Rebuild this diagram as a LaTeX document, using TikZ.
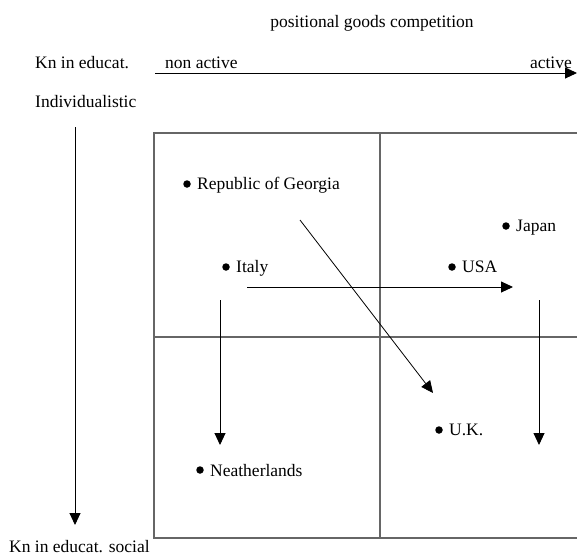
\documentclass[tikz,border=0pt]{standalone}
\usepackage{fontspec}
\setmainfont{Liberation Serif}
\usetikzlibrary{arrows.meta}
\begin{document}
\begin{tikzpicture}[x=1pt,y=-1pt,
  lbl/.style={anchor=base west,inner sep=0pt,font=\fontsize{17.5}{20}\selectfont},
  lblr/.style={anchor=base east,inner sep=0pt,font=\fontsize{17.5}{20}\selectfont},
  lblc/.style={anchor=base,inner sep=0pt,font=\fontsize{17.5}{20}\selectfont},
  dot/.style={circle,fill=black,inner sep=0pt,minimum size=7.5pt},
  arr/.style={line width=0.9pt,-{Triangle[length=12pt,width=11pt]}},
  grid/.style={line width=1.2pt,draw=black!60}]
\useasboundingbox (0,0) rectangle (577,557);
% texts
\node[lblc] (title) at (372,27) {positional goods competition};
\node[lbl] (kn) at (35,68) {Kn in educat.};
\node[lbl] (nonactive) at (165,68) {non active};
\node[lblr] (active) at (572,68) {active};
\node[lbl] (indiv) at (35,107) {Individualistic};
\node[lbl] (social) at (9,552) {Kn in educat. social};
% axes
\coordinate (hs) at (155,73);
\coordinate (he) at (577,73);
\draw[arr] (hs) -- (he);
\coordinate (vs) at (75,127);
\coordinate (ve) at (75,525);
\draw[arr] (vs) -- (ve);
% grid
\coordinate (tl) at (154,133);
\coordinate (tr) at (577,133);
\coordinate (bl) at (154,538);
\coordinate (br) at (577,538);
\coordinate (mt) at (380,133);
\coordinate (mb) at (380,538);
\coordinate (ml) at (154,337);
\coordinate (mr) at (577,337);
\draw[grid] (tr) -- (tl) -- (bl) -- (br);
\draw[grid] (mt) -- (mb);
\draw[grid] (ml) -- (mr);
% countries
\node[dot] (georgiadot) at (187,184) {};
\node[lbl] (georgia) at (197,189) {Republic of Georgia};
\node[dot] (italydot) at (226,267) {};
\node[lbl] (italy) at (236,272) {Italy};
\node[dot] (japandot) at (506,226) {};
\node[lbl] (japan) at (516,231) {Japan};
\node[dot] (usadot) at (452,267) {};
\node[lbl] (usa) at (462,272) {USA};
\node[dot] (ukdot) at (439,430) {};
\node[lbl] (uk) at (449,435) {U.K.};
\node[dot] (nethdot) at (200,470) {};
\node[lbl] (neth) at (210,476) {Neatherlands};
% movement arrows
\coordinate (d1s) at (300,220);
\coordinate (d1e) at (433,393);
\draw[arr,line width=0.8pt] (d1s) -- (d1e);
\coordinate (h1s) at (247,287);
\coordinate (h1e) at (513,287);
\draw[arr] (h1s) -- (h1e);
\coordinate (v1s) at (220,300);
\coordinate (v1e) at (220,445);
\draw[arr] (v1s) -- (v1e);
\coordinate (v2s) at (539,300);
\coordinate (v2e) at (539,445);
\draw[arr] (v2s) -- (v2e);
\end{tikzpicture}
\end{document}
